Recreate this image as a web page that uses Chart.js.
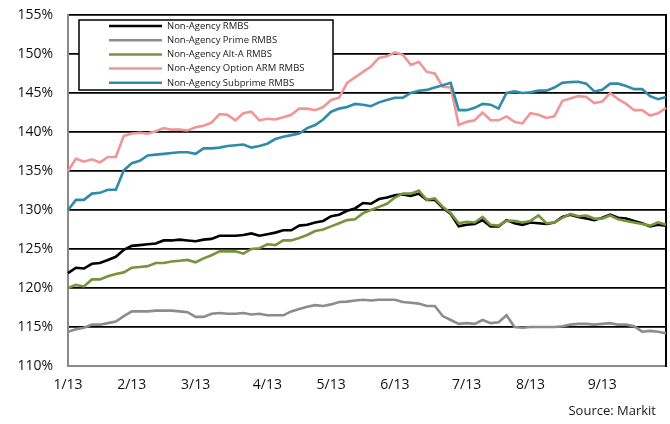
<!DOCTYPE html>
<html>
<head>
<meta charset="utf-8">
<script src="https://cdn.jsdelivr.net/npm/chart.js@4.4.1/dist/chart.umd.min.js"></script>
<style>
html,body{margin:0;padding:0;background:#fff;}
#wrap{width:670px;height:424px;}
</style>
</head>
<body>
<div id="wrap"><canvas id="c" width="670" height="424"></canvas></div>
<script>
// ---- tick labels (month starts, placed at the trading-day index where each month begins)
const monthLabels = ['1/13','2/13','3/13','4/13','5/13','6/13','7/13','8/13','9/13'];
const monthStartIndex = [0, 8, 16, 25, 33, 41, 50, 58, 67];
const pointCount = 76;

// ---- series values (% of par)
const nonAgencyRMBS = [121.9,122.6,122.5,123.1,123.2,123.6,124.0,124.9,125.4,125.5,
 125.6,125.7,126.1,126.1,126.2,126.1,126.0,126.2,126.3,126.7,
 126.7,126.7,126.8,127.0,126.7,126.9,127.1,127.4,127.4,128.0,
 128.1,128.4,128.6,129.2,129.4,129.9,130.2,130.9,130.8,131.4,
 131.6,131.9,132.0,131.8,132.1,131.3,131.3,130.3,129.5,127.9,
 128.1,128.2,128.7,127.9,127.9,128.7,128.3,128.1,128.4,128.3,
 128.2,128.4,129.1,129.4,129.1,128.9,128.7,129.0,129.4,129.0,
 128.9,128.6,128.3,127.9,128.1,128.0];
const primeRMBS = [114.4,114.7,114.9,115.3,115.3,115.5,115.7,116.4,117.0,117.0,
 117.0,117.1,117.1,117.1,117.0,116.9,116.3,116.3,116.7,116.8,
 116.7,116.7,116.8,116.6,116.7,116.5,116.5,116.5,117.0,117.3,
 117.6,117.8,117.7,117.9,118.2,118.25,118.4,118.5,118.4,118.5,
 118.5,118.5,118.2,118.1,118.0,117.7,117.7,116.4,115.9,115.4,
 115.5,115.4,115.9,115.5,115.6,116.5,115.0,114.9,115.0,115.0,
 115.0,115.0,115.1,115.3,115.4,115.4,115.3,115.4,115.5,115.3,
 115.3,115.1,114.4,114.5,114.4,114.2];
const altARMBS = [120.0,120.4,120.2,121.1,121.1,121.5,121.8,122.0,122.6,122.7,
 122.8,123.2,123.2,123.4,123.5,123.6,123.3,123.8,124.2,124.7,
 124.7,124.7,124.4,125.0,125.1,125.6,125.5,126.1,126.1,126.4,
 126.8,127.3,127.5,127.9,128.3,128.7,128.8,129.6,130.0,130.4,
 130.8,131.6,132.1,132.1,132.5,131.3,131.5,130.4,129.6,128.3,
 128.5,128.4,129.1,128.1,128.0,128.6,128.6,128.4,128.6,129.3,
 128.3,128.4,129.0,129.5,129.2,129.3,128.9,128.9,129.3,128.8,
 128.6,128.4,128.2,128.0,128.4,128.1];
const optionARMRMBS = [135.0,136.6,136.2,136.5,136.1,136.8,136.8,139.5,139.8,139.9,
 139.8,140.1,140.5,140.3,140.3,140.2,140.6,140.8,141.2,142.3,
 142.2,141.5,142.4,142.6,141.5,141.7,141.6,141.9,142.2,143.0,
 143.0,142.8,143.2,144.1,144.4,146.3,147.0,147.7,148.4,149.5,
 149.7,150.2,149.9,148.6,149.0,147.7,147.5,145.8,145.7,140.9,
 141.3,141.5,142.5,141.5,141.5,142.0,141.3,141.1,142.4,142.2,
 141.8,142.0,144.0,144.3,144.6,144.5,143.7,143.9,145.0,144.2,
 143.6,142.8,142.8,142.1,142.4,143.1];
const subprimeRMBS = [130.0,131.3,131.3,132.1,132.2,132.6,132.6,135.1,136.0,136.3,
 137.0,137.1,137.2,137.3,137.4,137.4,137.2,137.9,137.9,138.0,
 138.2,138.3,138.4,138.0,138.2,138.5,139.1,139.4,139.6,139.8,
 140.5,140.9,141.6,142.6,143.0,143.2,143.6,143.5,143.3,143.8,
 144.1,144.4,144.4,145.0,145.3,145.4,145.7,146.0,146.3,142.8,
 142.8,143.1,143.6,143.5,143.0,145.0,145.2,145.0,145.1,145.3,
 145.3,145.7,146.3,146.4,146.45,146.2,145.2,145.4,146.2,146.2,
 145.9,145.5,145.5,144.6,144.2,144.5];

// category labels: month label at the start of each month, blank elsewhere
const xLabels = [];
for (let i = 0; i < pointCount; i++) {
  const k = monthStartIndex.indexOf(i);
  xLabels.push(k >= 0 ? monthLabels[k] : '');
}

const FONT = '"Open Sans", "Liberation Sans", sans-serif';

const boxLegend = {
  id: 'boxLegend',
  afterDraw(chart) {
    const { ctx, chartArea: a } = chart;
    const x0 = a.left + 11, y0 = a.top + 5, w = 254, h = 70;
    ctx.save();
    ctx.fillStyle = '#ffffff';
    ctx.fillRect(x0, y0, w, h);
    ctx.strokeStyle = '#000000';
    ctx.lineWidth = 1.5;
    ctx.strokeRect(x0, y0, w, h);
    ctx.font = '9.5px ' + FONT;
    ctx.textBaseline = 'middle';
    ctx.textAlign = 'left';
    chart.data.datasets.forEach((ds, i) => {
      const y = y0 + 6 + i * 14.2;
      ctx.strokeStyle = ds.borderColor;
      ctx.lineWidth = 2.5;
      ctx.beginPath();
      ctx.moveTo(x0 + 30, y);
      ctx.lineTo(x0 + 83, y);
      ctx.stroke();
      ctx.fillStyle = '#1a1a1a';
      ctx.fillText(ds.label, x0 + 88, y);
    });
    ctx.restore();
  }
};

const sourceNote = {
  id: 'sourceNote',
  afterDraw(chart) {
    const { ctx, chartArea: a } = chart;
    ctx.save();
    ctx.font = '13px ' + FONT;
    ctx.fillStyle = '#1a1a1a';
    ctx.textAlign = 'right';
    ctx.textBaseline = 'middle';
    ctx.fillText('Source: Markit', a.right - 10, a.bottom + 45);
    ctx.restore();
  }
};

function draw() {
  new Chart(document.getElementById('c'), {
    type: 'line',
    data: {
      labels: xLabels,
      datasets: [
        { label: 'Non-Agency RMBS', data: nonAgencyRMBS, borderColor: '#000000', order: 5 },
        { label: 'Non-Agency Prime RMBS', data: primeRMBS, borderColor: '#8c8c8c', order: 4 },
        { label: 'Non-Agency Alt-A RMBS', data: altARMBS, borderColor: '#77933c', order: 3 },
        { label: 'Non-Agency Option ARM RMBS', data: optionARMRMBS, borderColor: '#ef9696', order: 2 },
        { label: 'Non-Agency Subprime RMBS', data: subprimeRMBS, borderColor: '#2e8ca8', order: 1 }
      ]
    },
    options: {
      responsive: false,
      animation: false,
      layout: { padding: { top: 15, right: 4, left: 0, bottom: 0 } },
      plugins: { legend: { display: false }, tooltip: { enabled: false } },
      elements: {
        point: { radius: 0 },
        line: { tension: 0, borderWidth: 2.6, fill: false }
      },
      scales: {
        x: {
          grid: { display: false, drawTicks: false },
          border: { display: true, color: '#8a8a8a', width: 2 },
          ticks: {
            autoSkip: false, maxRotation: 0, minRotation: 0, padding: 11,
            color: '#111111', font: { family: FONT, size: 14 }
          },
          afterFit(s) { s.height = 58; s.paddingLeft = 0; s.paddingRight = 0; }
        },
        y: {
          min: 110, max: 155,
          ticks: {
            stepSize: 5, padding: 15, color: '#111111',
            font: { family: FONT, size: 14 },
            callback: v => v + '%'
          },
          grid: {
            drawTicks: false,
            lineWidth: 1.8,
            color: c => (c.tick && c.tick.value === 110) ? 'rgba(0,0,0,0)' : '#000000'
          },
          border: { display: true, color: '#8a8a8a', width: 2 },
          afterFit(s) { s.width = 68; s.paddingTop = 0; s.paddingBottom = 0; }
        },
        yRight: {
          position: 'right', min: 110, max: 155,
          ticks: { display: false },
          grid: { display: false, drawTicks: false },
          border: { display: true, color: '#000000', width: 2 },
          afterFit(s) { s.width = 0; s.paddingTop = 0; s.paddingBottom = 0; }
        }
      }
    },
    plugins: [boxLegend, sourceNote]
  });
}

if (document.fonts && document.fonts.load) {
  Promise.all([
    document.fonts.load('14px "Open Sans"'),
    document.fonts.load('9.5px "Open Sans"')
  ]).then(draw, draw);
} else {
  draw();
}
</script>
</body>
</html>
